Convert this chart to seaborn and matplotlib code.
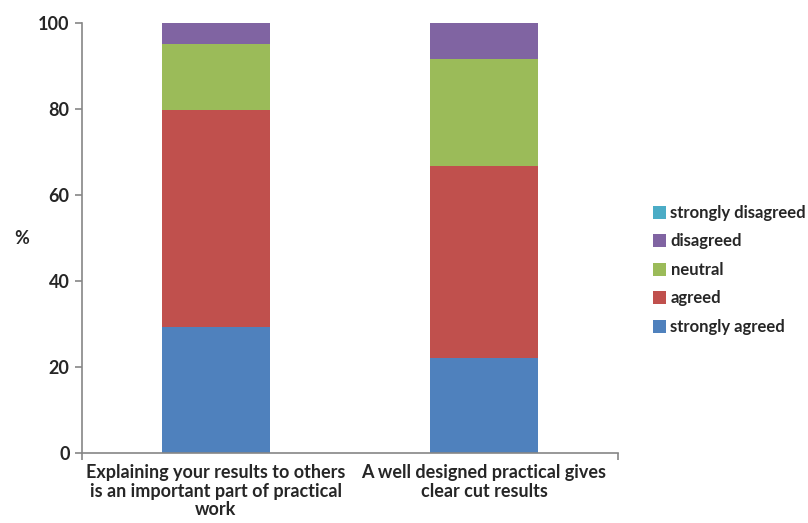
import numpy as np
import pandas as pd
import matplotlib
matplotlib.use("Agg")
import matplotlib.pyplot as plt
import seaborn as sns
from matplotlib.patches import Patch

categories = ["Explaining your results to others\nis an important part of practical\nwork",
              "A well designed practical gives\nclear cut results"]
series = ["strongly agreed", "agreed", "neutral", "disagreed", "strongly disagreed"]
strongly_agreed = [29.2, 22.2]
agreed = [50.6, 44.5]
neutral = [15.2, 24.9]
disagreed = [5.0, 8.4]
strongly_disagreed = [0.0, 0.0]
colors = ["#4F81BD", "#C0504D", "#9BBB59", "#8064A2", "#4BACC6"]
yticks = [0, 20, 40, 60, 80, 100]

values = [strongly_agreed, agreed, neutral, disagreed, strongly_disagreed]
df = pd.DataFrame({"category": categories * len(series),
                   "series": [s for s in series for _ in categories],
                   "value": [v for vals in values for v in vals]})

sns.set_style("white")
plt.rcParams['font.family'] = ['Lato', 'DejaVu Sans']

fig = plt.figure(figsize=(8.08, 5.23), dpi=100)
ax = fig.add_axes([82/808, 70/523, 536/808, 430/523])

bottom = np.zeros(len(categories))
for s, c in zip(series, colors):
    sub = df[df.series == s]
    sns.barplot(data=sub, x="category", y="value", color=c, ax=ax,
                bottom=bottom, width=0.4, linewidth=0, saturation=1, errorbar=None)
    bottom = bottom + sub["value"].to_numpy()

ax.set_ylim(0, 100)
ax.set_xlim(-0.5, 1.5)
ax.set_yticks(yticks)
ax.set_yticklabels([str(t) for t in yticks], fontsize=13, fontweight='bold')
ax.set_xticks(range(len(categories)))
ax.set_xticklabels(categories, fontsize=13, fontweight='bold', linespacing=1.12)
ax.set_xlabel("")
ax.set_ylabel("%", rotation=0, fontsize=13, fontweight='bold', labelpad=12, va='center')
for sp in ["top", "right"]:
    ax.spines[sp].set_visible(False)
for sp in ["left", "bottom"]:
    ax.spines[sp].set_color("#868686")
    ax.spines[sp].set_linewidth(1.2)
ax.tick_params(axis='y', which='major', length=5, width=1.2, color="#868686", direction='out', left=True, pad=4)
ax.tick_params(axis='x', which='major', length=0, pad=8)
ax.set_xticks([-0.5, 1.5], minor=True)
ax.tick_params(axis='x', which='minor', length=5, width=1.2, color="#868686", direction='out', bottom=True)

handles = [Patch(facecolor=c, edgecolor='none') for c in colors][::-1]
labels = series[::-1]
leg = fig.legend(handles, labels, loc='center left', bbox_to_anchor=(638/808, 1 - 270/523),
                 frameon=False, handlelength=0.8, handleheight=0.8,
                 handletextpad=0.25, labelspacing=0.75, prop={'weight': 'bold', 'size': 12})

fig.savefig("out.png", dpi=100)
